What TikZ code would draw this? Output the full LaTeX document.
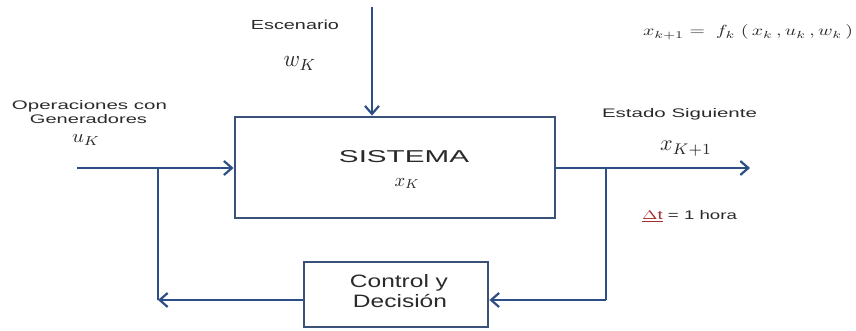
\documentclass[tikz,border=0pt]{standalone}
\usepackage{fontspec}
\usepackage{graphicx}
\setmainfont{Liberation Sans}
\usetikzlibrary{arrows.meta,calc}
\definecolor{lineblue}{HTML}{2C4E85}
\definecolor{boxedge}{HTML}{3A5278}
\definecolor{txt}{HTML}{2A2A2A}
\definecolor{dtred}{HTML}{A0302E}
\newcommand{\fitbox}[3]{\resizebox{#1}{#2}{#3}}
\begin{document}
\begin{tikzpicture}[x=1pt,y=-1pt,
  conn/.style={draw=lineblue,line width=2.8pt},
  arr/.style={conn,-{Straight Barb[length=8pt,width=14pt,line width=2.2pt]}},
  blockbox/.style={draw=boxedge,line width=2.8pt,fill=white,inner sep=0pt},
  lbl/.style={text=txt,inner sep=0pt,anchor=base}
]
\useasboundingbox (0,0) rectangle (856,331);
\node[blockbox,minimum width=320,minimum height=101] (sys) at (395,167.5) {};
\node[blockbox,minimum width=184,minimum height=65] (ctrl) at (396,294.5) {};

\node[lbl] (systxt) at (404,163) {\fitbox{130pt}{12pt}{SISTEMA}};
\node[lbl] (xk) at (407,186) {\fitbox{25pt}{8pt}{$x_{K}$}};
\node[lbl] (ctrl1) at (399,287) {\fitbox{98pt}{13pt}{Control y}};
\node[lbl] (ctrl2) at (400,307) {\fitbox{94pt}{13pt}{Decisi\smash{ó}n}};

\coordinate (top) at (372,7);
\coordinate (in) at (77,168);
\coordinate (out) at (750,168);
\coordinate (jl) at (158,168);
\coordinate (jr) at (606,168);
\coordinate (bl) at (158,300);
\coordinate (br) at (606,300);

\draw[arr] (top) -- (top |- sys.north);
\draw[arr] (in) -- (in -| sys.west);
\draw[arr] (in -| sys.east) -- (out);
\draw[conn] (jl) -- (bl);
\draw[conn] (jr) -- (br);
\draw[arr] (br) -- (br -| ctrl.east);
\draw[arr] (bl -| ctrl.west) -- (bl);

\node[lbl] (esc) at (295,30) {\fitbox{88pt}{9.5pt}{Escenario}};
\node[lbl] (wk) at (300,67) {\fitbox{33pt}{10pt}{$w_{K}$}};
\node[lbl] (op1) at (89.5,109.5) {\fitbox{155pt}{9pt}{Operaciones con}};
\node[lbl] (op2) at (88.5,123.5) {\fitbox{117pt}{9pt}{Generadores}};
\node[lbl] (uk) at (86,143) {\fitbox{28pt}{8pt}{$u_{K}$}};
\node[lbl] (est) at (679.5,118) {\fitbox{155pt}{9pt}{Estado Siguiente}};
\node[lbl] (xk1) at (686,151) {\fitbox{52pt}{9.5pt}{$x_{K+1}$}};
\node[lbl] (dt) at (689.5,219) {\fitbox{95pt}{9pt}{\textcolor{dtred}{\underline{$\Delta$t}} = 1 hora}};
\node[lbl] (eq) at (748,36) {\fitbox{210pt}{11pt}{$x_{k+1} =\; f_k\;(\,x_k\,,u_k\,,w_k\,)$}};
\end{tikzpicture}
\end{document}
